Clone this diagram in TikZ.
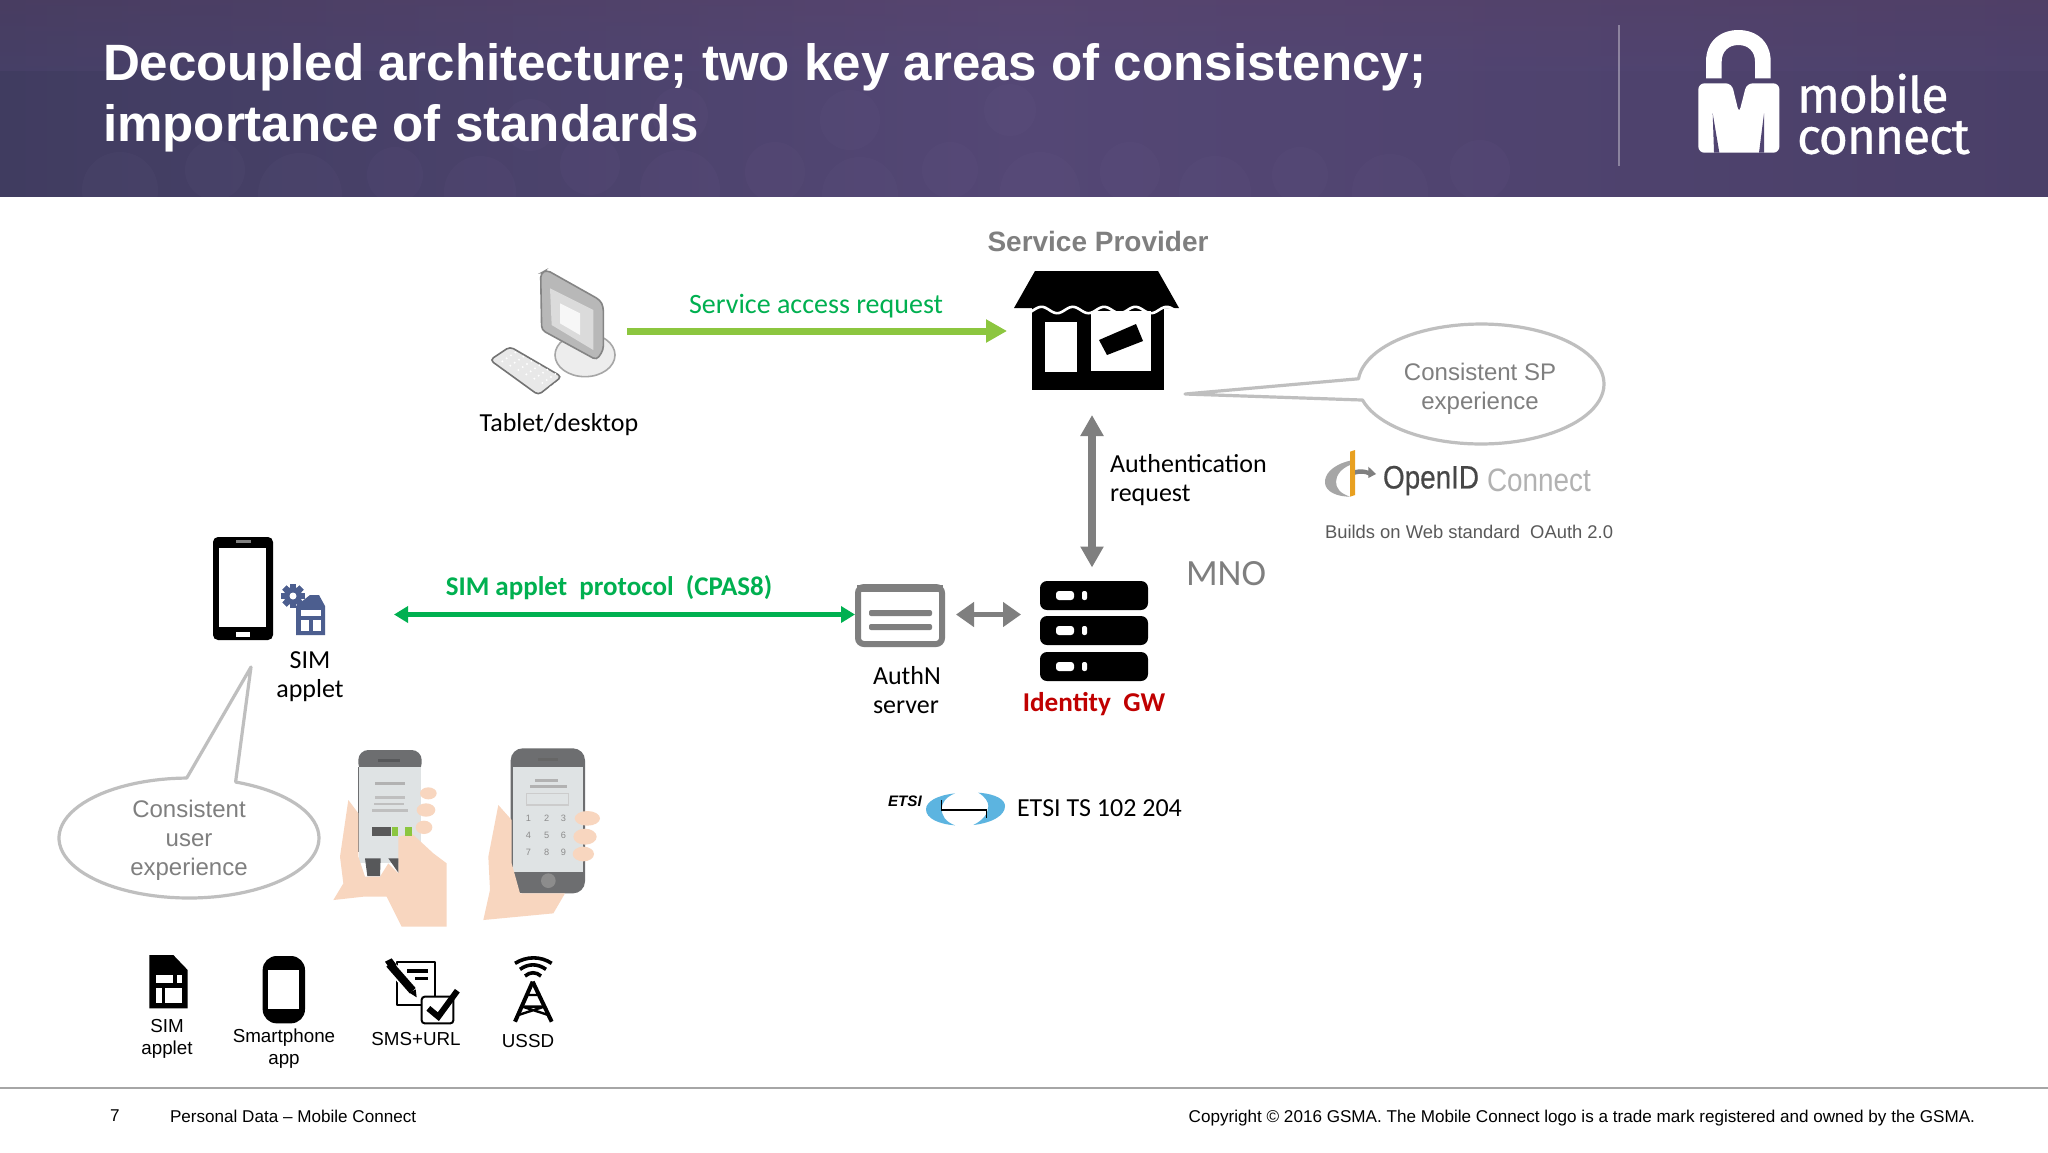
\documentclass[tikz,border=0pt]{standalone}
\usepackage{fontspec}
\setmainfont{Liberation Sans}
\newfontfamily\calibri{Carlito}
\newfontfamily\logofont{Fira Sans}
\newfontfamily\logofontheavy[FakeBold=0.6,LetterSpace=-2.4]{Fira Sans}
\newfontfamily\oidfont[FakeBold=0.5]{Liberation Sans}
\usetikzlibrary{arrows.meta,shapes.geometric}
\definecolor{hleft}{HTML}{403C60}
\definecolor{hmid}{HTML}{544775}
\definecolor{hright}{HTML}{4A3F68}
\definecolor{hplum}{HTML}{5C4064}
\definecolor{blob}{HTML}{7A6A9A}
\definecolor{sagreen}{HTML}{00B050}
\definecolor{lgreen}{HTML}{8CC63F}
\definecolor{midgray}{HTML}{7F7F7F}
\definecolor{bubgray}{HTML}{BFBFBF}
\definecolor{txtgray}{HTML}{7F7F7F}
\definecolor{idred}{HTML}{C00000}
\definecolor{simblue}{HTML}{4C5E8F}
\definecolor{skin}{HTML}{F8D6BF}
\definecolor{phdark}{HTML}{6D6E70}
\definecolor{phscreen}{HTML}{DFE3E4}
\definecolor{etsiblue}{HTML}{5CB4E0}
\definecolor{oidorange}{HTML}{E8A020}
\tikzset{
  anchorbox/.style={inner sep=0pt,outer sep=0pt,draw=none},
  lbl/.style={inner sep=0pt,outer sep=0pt,align=center},
  callabel/.style={lbl,font=\calibri\fontsize{13}{14.5}\selectfont,text=black},
  arlabel/.style={lbl,font=\fontsize{9.4}{11}\selectfont,text=black},
  bubtext/.style={lbl,font=\fontsize{12}{14.4}\selectfont,text=txtgray},
  bubline/.style={draw=bubgray,line width=1.6pt,fill=white,line join=round},
  footer/.style={lbl,font=\fontsize{8.55}{10}\selectfont,text=black},
  greyarrow/.style={draw=midgray,line width=4pt,{Triangle[length=10.5pt,width=11pt]}-{Triangle[length=10.5pt,width=11pt]}},
  zoomscope/.style={x=0.16667pt,y=-0.16667pt},
}
\begin{document}
\begin{tikzpicture}[x=0.5pt,y=-0.5pt]
\useasboundingbox (0,0) rectangle (2048,1152);
\fill[white] (0,0) rectangle (2048,1152);
% header
\begin{scope}
\clip (0,0) rectangle (2048,196);
\shade[left color=hleft,right color=hright,middle color=hmid] (0,0) rectangle (2048,196);
\shade[opacity=.3,top color=hplum,bottom color=hmid] (0,0) rectangle (2048,70);
\foreach \cx/\cy/\r in {120/190/38,215/170/30,300/195/42,395/175/28,480/192/36,590/165/30,680/190/40,775/172/30,860/195/38,950/170/28,1040/192/40,1130/172/30,1215/192/36,1300/175/28,1390/192/38,1480/170/30,850/120/30,1010/110/26,680/115/28,530/125/26}
  \fill[blob,opacity=.07] (\cx,\cy) circle[radius=\r];
\end{scope}
\node[lbl,anchor=west,align=left,font=\bfseries\fontsize{25.55}{30.6}\selectfont,text=white] (title) at (103,98) {Decoupled architecture; two key areas of consistency;\\importance of standards};
\draw[white,opacity=.35,line width=.6pt] (1619,25) -- (1619,166);
% mobile connect logo
\begin{scope}[shift={(1560,0)},zoomscope]
\fill[white] (438,235) -- (438,185) .. controls (438,120) and (485,90) .. (535,90) .. controls (590,90) and (632,125) .. (632,185) -- (632,235) -- (585,235) -- (585,185) .. controls (585,155) and (565,135) .. (535,135) .. controls (505,135) and (485,155) .. (485,185) -- (485,235) -- cycle;
\fill[white,rounded corners=3pt] (415,250) -- (515,250) -- (537,340) -- (560,250) -- (658,250) -- (658,458) -- (415,458) -- cycle;
\fill[hmid!85!hleft] (458,340) -- (478,458) -- (462,458) -- cycle;
\fill[hmid!85!hleft] (612,340) -- (597,458) -- (612,458) -- cycle;
\end{scope}
\node[lbl,anchor=west,align=left,font=\logofontheavy\fontsize{25}{20.6}\selectfont,text=white] (logotext) at (1797,114) {mobile\\connect};
% anchor boxes for connectors
\node[anchorbox,minimum width=69pt,minimum height=30pt] (pc) at (558,331) {};
\node[anchorbox,minimum width=85pt,minimum height=84pt] (store) at (1092,331) {};
\node[anchorbox,minimum width=71pt,minimum height=47pt] (gw) at (1092,614.5) {};
\node[anchorbox,minimum width=50.5pt,minimum height=30pt] (authn) at (905.5,614.5) {};
\node[anchorbox,minimum width=91pt,minimum height=40pt] (handset) at (303,614.5) {};
% computer
\begin{scope}[shift={(470,260)},zoomscope]
\filldraw[fill=black!7,draw=black!35,line width=.8pt] (345,285) ellipse[x radius=90,y radius=65];
\filldraw[fill=black!28,draw=black!48,line width=.8pt,rounded corners=2pt] (212,40) -- (230,30) -- (390,120) -- (400,140) -- (400,270) -- (380,300) -- (215,210) -- cycle;
\fill[black!14] (240,85) -- (370,150) -- (370,270) -- (245,195) -- cycle;
\fill[black!3] (270,130) -- (330,160) -- (330,225) -- (270,190) -- cycle;
\filldraw[fill=black!9,draw=black!55,line width=.8pt,rounded corners=2pt] (60,300) -- (120,260) -- (275,350) -- (205,405) -- cycle;
\foreach \i in {1,...,7}\foreach \j in {1,...,4}
  \fill[white] ({60+\i*24+\j*13},{300+\i*13-\j*9}) circle[radius=3.2];
\end{scope}
\node[callabel] (pclabel) at (559,424.5) {Tablet/desktop};
% store
\node[lbl,font=\bfseries\fontsize{14}{16}\selectfont,text=txtgray] (splabel) at (1098,241) {Service Provider};
\fill[black] (1032,300) rectangle (1164,390);
\fill[black] (1035,271) -- (1158,271) -- (1179,308) -- (1014,308) -- cycle;
\fill[white] (1045,322) rectangle (1077,372);
\fill[white] (1091,311) rectangle (1151,371);
\draw[white,line width=1.3pt] plot[domain=1018:1175,samples=70] (\x,{310+3.2*sin((\x-1018)*11.5)});
\fill[black] (1099,340) -- (1136,324) -- (1143,341) -- (1107,355) -- cycle;
\draw[draw=lgreen,line width=3.5pt,-{Triangle[length=10.5pt,width=11pt]}] (pc.east) -- (store.west);
\node[lbl,font=\calibri\fontsize{14}{16}\selectfont,text=sagreen] (salabel) at (816,306.5) {Service access request};
% auth arrow
\draw[greyarrow] (store.south) -- (gw.north);
\node[callabel,align=left,anchor=north west] (authreq) at (1110,454) {Authentication\\request};
% SP bubble
\draw[bubline] (1185,394) -- plot[domain=185:524.5,samples=90] ({1481+123*cos(\x)},{384+60*sin(\x)}) -- cycle;
\node[bubtext] (sptext) at (1480,389) {Consistent SP\\experience};
% OpenID
\begin{scope}[shift={(1300,440)},zoomscope]
\fill[black!35] (150,62) .. controls (95,75) and (72,105) .. (75,130) .. controls (78,155) and (110,170) .. (150,170) .. controls (120,160) and (108,145) .. (108,125) .. controls (108,105) and (125,85) .. (150,75) -- cycle;
\fill[oidorange] (150,35) -- (165,30) -- (165,165) -- (150,170) -- cycle;
\fill[black!50] (165,90) .. controls (180,86) and (195,88) .. (205,92) -- (205,80) -- (228,102) -- (205,114) -- (205,106) .. controls (195,100) and (180,100) .. (165,104) -- cycle;
\end{scope}
\node[lbl,anchor=west,text=black!72] (oid) at (1383,480.5) {\scalebox{.86}[1]{\oidfont\fontsize{16.2}{18}\selectfont OpenID}};
\node[lbl,anchor=west,text=black!30] (oidc) at (1487,480.5) {\scalebox{.86}[1]{\fontsize{16.2}{18}\selectfont Connect}};
\node[lbl,anchor=west,font=\fontsize{9.2}{11}\selectfont,text=black!65] (oauth) at (1325,532) {Builds on Web standard\ \ OAuth 2.0};
\node[lbl,font=\calibri\fontsize{18.5}{20}\selectfont,text=txtgray] (mno) at (1226,574) {MNO};
% handset
\fill[black,rounded corners=2.5pt] (213,537) rectangle (273,640);
\fill[white] (219,548) rectangle (266,627);
\fill[black!50] (236,540) rectangle (251,542.5);
\fill[white] (236,632) rectangle (250,637);
\fill[simblue] (296,606) -- (310,595) -- (319,595) -- (325,606) -- (325,635) -- (296,635) -- cycle;
\fill[white] (301,610) rectangle (321,616);
\fill[white] (301,620) rectangle (309,631);
\fill[white] (313,620) rectangle (321,631);
\foreach \a in {0,45,...,315}
  \fill[simblue,rotate around={\a:(293,596)}] (290,584) rectangle (296,608);
\fill[simblue] (293,596) circle[radius=9];
\fill[white] (293,596) circle[radius=3.5];
\node[callabel] (simlabel) at (310,677) {SIM\\applet};
% SIM applet protocol
\draw[draw=sagreen,line width=2.4pt,{Triangle[length=7pt,width=8pt]}-{Triangle[length=7pt,width=8pt]}] (handset.east) -- (authn.west);
\node[lbl,font=\calibri\bfseries\fontsize{13.5}{16}\selectfont,text=sagreen] (protolabel) at (609,588) {SIM applet\ \ protocol\ \ (CPAS8)};
% authN
\draw[draw=midgray,fill=white,line width=3pt,rounded corners=3pt] (858,587) rectangle (942,644);
\fill[midgray] (857,585) rectangle (943,592);
\fill[midgray,rounded corners=1pt] (869,610) rectangle (932,616);
\fill[midgray,rounded corners=1pt] (869,624) rectangle (932,630);
\node[callabel,align=left,anchor=north west] (authlabel) at (873,666) {AuthN\\server};
\draw[draw=midgray,line width=2.6pt,{Triangle[length=9pt,width=12pt]}-{Triangle[length=9pt,width=12pt]}] (authn.east) -- (gw.west);
% gateway
\foreach \t in {581,616,652}{
  \fill[black,rounded corners=3.5pt] (1040,\t) rectangle (1148,\t+29);
  \fill[white,rounded corners=1.5pt] (1056,\t+10) rectangle (1074,\t+19);
  \fill[white,rounded corners=1pt] (1082,\t+10) rectangle (1087,\t+19);
}
\node[lbl,font=\calibri\bfseries\fontsize{13.6}{16}\selectfont,text=idred] (idgw) at (1094,704) {Identity\ \ GW};
% left bubble
\draw[bubline] (251,667) -- plot[domain=291:629,samples=90] ({189+130*cos(\x)},{838+60*sin(\x)}) -- cycle;
\node[bubtext] (usertext) at (189,840.5) {Consistent\\user\\experience};
% hand phones
\begin{scope}[shift={(320,730)},zoomscope]
\fill[phdark,rounded corners=5pt] (115,60) -- (305,60) -- (305,130) -- (115,130) -- cycle;
\fill[phscreen] (118,110) rectangle (303,400);
\fill[phdark] (113,110) rectangle (118,365);
\fill[phdark!80!black] (175,88) rectangle (240,95);
\fill[skin] (40,510) -- (70,460) -- (60,380) -- (85,210) -- (115,250) -- (115,380) -- (135,440) -- (180,440) -- (205,400) -- (235,430) -- (235,320) -- (275,310) -- (340,370) -- (380,400) -- (380,590) -- (245,590) -- (200,500) -- (130,500) -- cycle;
\fill[skin] (325,190) ellipse[x radius=25,y radius=18];
\fill[skin] (318,240) ellipse[x radius=28,y radius=20];
\fill[skin] (312,292) ellipse[x radius=25,y radius=20];
\fill[phdark!80!black] (135,385) -- (182,385) -- (180,438) -- (142,438) -- cycle;
\fill[phdark!80!black] (205,385) -- (235,385) -- (235,428) -- cycle;
\fill[black!65] (155,290) rectangle (212,318);
\fill[lgreen] (215,290) rectangle (234,318);
\fill[lgreen] (256,290) rectangle (275,318);
\fill[black!30] (165,155) rectangle (255,166);
\fill[black!25] (165,198) rectangle (255,206);
\fill[black!25] (162,218) rectangle (252,226);
\fill[black!25] (155,238) rectangle (265,246);
\fill[phdark,rounded corners=6pt] (572,55) rectangle (795,490);
\fill[phscreen] (578,110) rectangle (790,425);
\fill[black!60] (655,85) rectangle (715,93);
\fill[black!45] (685,452) circle[radius=22];
\fill[skin] (490,570) -- (510,480) -- (505,380) -- (535,225) -- (575,270) -- (575,400) -- (600,490) -- (735,490) -- (700,550) -- cycle;
\fill[skin] (802,265) ellipse[x radius=38,y radius=22];
\fill[skin] (795,320) ellipse[x radius=35,y radius=24];
\fill[skin] (790,372) ellipse[x radius=32,y radius=22];
\fill[black!30] (645,148) rectangle (715,156);
\fill[black!30] (630,166) rectangle (740,175);
\draw[black!20,line width=.6pt] (620,190) rectangle (745,225);
\foreach \n/\px/\py in {1/625/265,2/680/265,3/730/265,4/625/317,5/680/317,6/730/317,7/625/368,8/680/368,9/730/368}
  \node[lbl,font=\fontsize{4.6}{5}\selectfont,text=black!45] (key\n) at (\px,\py) {\n};
\end{scope}
% ETSI
\begin{scope}[shift={(870,770)},zoomscope]
\fill[etsiblue] (255,70) .. controls (200,76) and (168,95) .. (168,118) .. controls (168,145) and (205,162) .. (255,166) .. controls (225,155) and (215,135) .. (215,118) .. controls (215,100) and (225,82) .. (255,70) -- cycle;
\fill[etsiblue] (325,68) .. controls (380,72) and (405,90) .. (405,108) .. controls (405,135) and (370,158) .. (310,165) .. controls (340,150) and (355,130) .. (355,108) .. controls (355,95) and (345,80) .. (325,68) -- cycle;
\draw[black,line width=.8pt] (215,90) -- (215,120) -- (350,120) -- (350,145);
\end{scope}
\node[lbl,anchor=west,font=\bfseries\itshape\fontsize{7.6}{9}\selectfont,text=black] (etsilogo) at (888,801) {ETSI};
\node[lbl,anchor=west,font=\calibri\fontsize{13}{15}\selectfont,text=black] (etsits) at (1017,808) {ETSI TS 102 204};
% bottom icons
\begin{scope}[shift={(120,940)},zoomscope]
\fill[black] (88,45) -- (160,45) -- (203,90) -- (203,205) -- (88,205) -- cycle;
\fill[white] (108,105) rectangle (160,130);
\fill[white] (172,105) rectangle (185,130);
\fill[white] (108,145) rectangle (125,190);
\fill[white] (135,145) rectangle (185,190);
\fill[black,rounded corners=7pt] (428,48) rectangle (555,250);
\fill[white] (443,90) rectangle (537,208);
\draw[black,line width=1pt,line join=round] (830,65) rectangle (945,195);
\fill[black] (860,88) rectangle (925,98);
\fill[black] (885,110) rectangle (925,120);
\draw[white,line width=5.5pt] (805,70) -- (880,155);
\draw[black,line width=4pt] (808,72) -- (878,152);
\fill[black] (868,158) -- (890,172) -- (887,148) -- cycle;
\fill[black] (795,65) -- (815,55) -- (830,75) -- (812,90) -- cycle;
\fill[white] (905,170) rectangle (1000,250);
\draw[black,line width=1pt,rounded corners=1.5pt] (905,170) rectangle (1000,250);
\draw[black,line width=3pt] (925,205) -- (955,230) -- (1012,152);
\draw[black,line width=2pt] (1238,125) -- (1185,245);
\draw[black,line width=2pt] (1238,125) -- (1295,245);
\draw[black,line width=1.2pt] (1222,165) -- (1258,165) (1208,200) -- (1272,200) (1208,200) -- (1285,225) (1272,200) -- (1195,225);
\draw[black,line width=1.8pt] (1215,108) .. controls (1230,95) and (1248,95) .. (1263,108);
\draw[black,line width=1.8pt] (1200,88) .. controls (1225,70) and (1252,70) .. (1278,88);
\draw[black,line width=1.8pt] (1185,70) .. controls (1220,48) and (1262,48) .. (1295,70);
\end{scope}
\node[arlabel] (l1) at (167,1038.5) {SIM\\applet};
\node[arlabel] (l2) at (284,1048.5) {Smartphone\\app};
\node[arlabel] (l3) at (416,1039.5) {SMS+URL};
\node[arlabel] (l4) at (528,1041) {USSD};
% footer
\draw[black!35,line width=.6pt] (0,1088) -- (2048,1088);
\node[footer,anchor=west] (pageno) at (110,1116) {7};
\node[footer,anchor=west] (pdata) at (170,1116) {Personal Data – Mobile Connect};
\node[footer,anchor=east] (copy) at (1975,1118.5) {Copyright © 2016 GSMA. The Mobile Connect logo is a trade mark registered and owned by the GSMA.};
\end{tikzpicture}
\end{document}
